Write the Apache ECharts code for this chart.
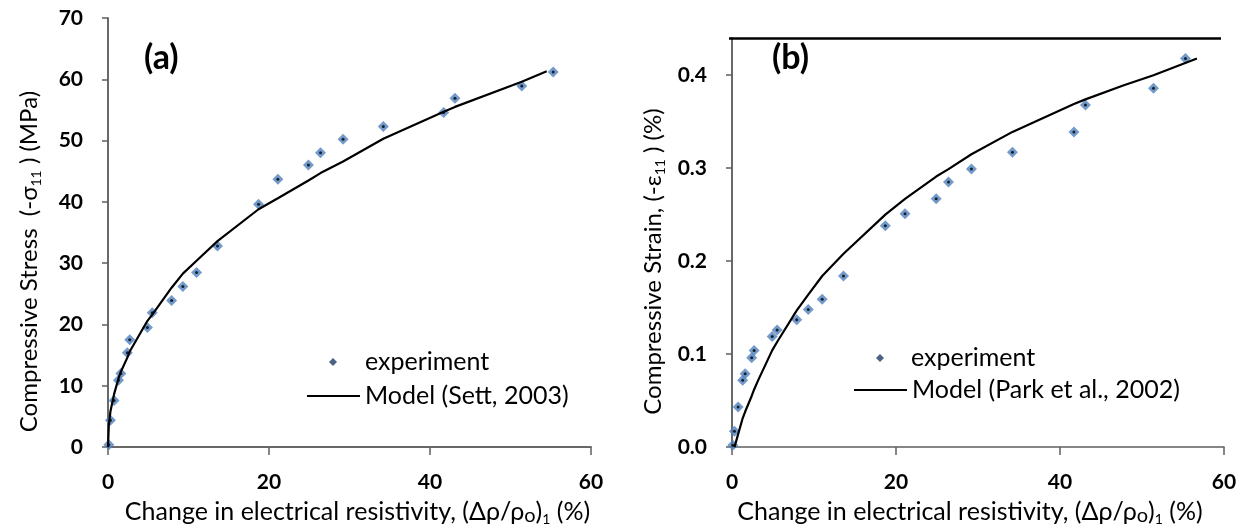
<!DOCTYPE html>
<html>
<head>
<meta charset="utf-8">
<script src="https://cdn.jsdelivr.net/npm/echarts@6/dist/echarts.min.js"></script>
<style>
html,body{margin:0;padding:0;background:#fff;}
#c{width:1251px;height:531px;}
</style>
</head>
<body>
<div id="c"></div>
<script>
// ---- data ----
var xExp = [0.1,0.3,0.75,1.3,1.6,2.4,2.7,4.9,5.5,7.9,9.3,11.0,13.6,18.7,21.1,24.9,26.4,29.2,34.2,41.7,43.1,51.4,55.3];
var stressExp = [0.4,4.4,7.6,10.9,12.0,15.4,17.5,19.5,21.9,23.9,26.2,28.5,32.8,39.6,43.7,46.0,48.0,50.2,52.3,54.6,56.9,58.9,61.2];
var strainExp = [0.002,0.017,0.043,0.072,0.079,0.096,0.104,0.119,0.126,0.137,0.148,0.159,0.184,0.238,0.251,0.267,0.285,0.299,0.317,0.339,0.368,0.386,0.418];

var xModelA = [0,0.1,0.3,0.75,1.3,1.6,2.4,2.7,4.9,5.5,7.9,9.3,11.0,13.6,18.7,21.1,24.9,26.4,29.2,34.2,41.7,43.1,51.4,54.5];
var stressModel = [0,3.5,5.8,8.6,11.2,12.3,14.6,15.6,20.6,21.6,26.0,28.3,30.4,33.6,38.8,40.6,43.5,44.7,46.6,50.3,54.7,55.5,59.6,61.3];

var xModelB = [0.3,0.75,1.3,1.6,2.4,2.7,3.2,4.9,5.5,7.9,9.3,11.0,13.6,18.7,21.1,24.9,26.4,29.2,34.2,41.7,43.1,47.7,51.4,56.7];
var strainModel = [0,0.014,0.031,0.038,0.055,0.062,0.072,0.104,0.113,0.147,0.164,0.184,0.208,0.250,0.267,0.291,0.299,0.315,0.339,0.369,0.374,0.389,0.400,0.418];

var xTicks = [0,20,40,60];
var stressTicks = [0,10,20,30,40,50,60,70];
var strainTicks = [0,0.1,0.2,0.3,0.4];

var labelA = '(a)', labelB = '(b)';
var legExp = 'experiment', legModelA = 'Model (Sett, 2003)', legModelB = 'Model (Park et al., 2002)';
var xName = 'Change in electrical resistivity, (Δρ/ρ{o|o}){s|1} (%)';
var yNameA = 'Compressive Stress  (-σ{s|11} ) (MPa)';
var yNameB = 'Compressive Strain, (-ε{s|11} ) (%)';

function zip(a,b){ return a.map(function(v,i){ return [v,b[i]]; }); }

// ---- styles ----
var FF = 'Lato, Carlito, Calibri, sans-serif';
var AX = '#5f5f5f';
function mkRich(fs){
  return {
    o:{fontFamily:FF,fontSize:Math.round(fs*0.78),color:'#000',lineHeight:22,verticalAlign:'bottom'},
    s:{fontFamily:FF,fontSize:14,color:'#000',lineHeight:14,verticalAlign:'bottom'}
  };
}
function nameStyle(fs,pad){ return {fontFamily:FF,fontSize:fs,color:'#000',lineHeight:28,rich:mkRich(fs),padding:pad}; }
var tickLabel = {fontFamily:FF,fontSize:21,fontWeight:'bold',color:'#000',margin:25,lineHeight:21};
var axLine = {show:true,lineStyle:{color:AX,width:1.5}};

function mainX(gi,pad){
  return {gridIndex:gi,type:'value',min:0,max:60,interval:20,position:'bottom',
    axisLine:axLine,axisTick:{show:true,inside:false,length:8,lineStyle:{color:AX,width:1.5},customValues:xTicks},
    axisLabel:Object.assign({customValues:xTicks},tickLabel),splitLine:{show:false},
    name:xName,nameLocation:'middle',nameGap:47,nameTextStyle:nameStyle(25,pad)};
}
function decoX(gi,show){
  return {gridIndex:gi,type:'value',min:0,max:60,position:'top',
    axisLine:{show:show,lineStyle:{color:AX,width:1.5}},axisTick:{show:false},axisLabel:{show:false},splitLine:{show:false}};
}
function decoY(gi,max){
  return {gridIndex:gi,type:'value',min:0,max:max,position:'right',
    axisLine:{show:true,lineStyle:{color:AX,width:1.5}},axisTick:{show:false},axisLabel:{show:false},splitLine:{show:false}};
}
function expLegend(left,top,padW){
  return {orient:'vertical',left:left,top:top,padding:0,itemWidth:8,itemHeight:8,
    formatter:function(n){return '{g|}'+n;},
    textStyle:{fontFamily:FF,fontSize:25,color:'#000',lineHeight:26,rich:{g:{width:padW,lineHeight:26}}},
    data:[{name:legExp,icon:'diamond',itemStyle:{color:'#1f3b63'}}]};
}
function modelLegend(left,top,name){
  return {orient:'vertical',left:left,top:top,padding:0,itemWidth:53,itemHeight:2.2,
    textStyle:{fontFamily:FF,fontSize:25,color:'#000',lineHeight:26},
    data:[{name:name,icon:'rect',itemStyle:{color:'#000'}}]};
}

var chart = echarts.init(document.getElementById('c'));
chart.setOption({
  backgroundColor:'#fff',
  animation:false,
  title:[
    {text:labelA,left:139,top:36,textStyle:{fontFamily:FF,fontSize:34,fontWeight:'bold',color:'#000'}},
    {text:labelB,left:767,top:36,textStyle:{fontFamily:FF,fontSize:34,fontWeight:'bold',color:'#000'}}
  ],
  grid:[
    {left:108,top:18,width:483,height:436},
    {left:732,top:38,width:492,height:416}
  ],
  legend:[
    expLegend(329,349,23),
    modelLegend(307,383,legModelA),
    expLegend(876,345,22),
    modelLegend(854,377,legModelB)
  ],
  xAxis:[mainX(0,[0,0,0,16]),decoX(0,true),mainX(1,[0,16,0,0]),decoX(1,false)],
  yAxis:[
    {gridIndex:0,type:'value',min:0,max:70,interval:10,position:'left',
     axisLine:axLine,axisTick:{show:true,length:6,lineStyle:{color:AX,width:1.5}},
     axisLabel:tickLabel,splitLine:{show:false},
     name:yNameA,nameLocation:'middle',nameGap:65,nameTextStyle:nameStyle(24,[0,58,0,0])},
    decoY(0,70),
    {gridIndex:1,type:'value',min:0,max:0.44,interval:0.1,position:'left',
     axisLine:axLine,axisTick:{show:true,length:6,lineStyle:{color:AX,width:1.5},customValues:strainTicks},
     axisLabel:Object.assign({customValues:strainTicks,formatter:function(v){
        return Math.abs(v*10-Math.round(v*10))<1e-6 ? v.toFixed(1) : '';}},tickLabel),
     splitLine:{show:false},
     name:yNameB,nameLocation:'middle',nameGap:65,nameTextStyle:nameStyle(24,[0,38,0,0])},
    decoY(1,0.44)
  ],
  graphic:[
    {type:'line',silent:true,shape:{x1:729,y1:38.5,x2:1221,y2:38.5},style:{stroke:'#000',lineWidth:2.5},z:10}
  ],
  series:[
    {name:legExp,type:'scatter',xAxisIndex:0,yAxisIndex:0,symbol:'diamond',symbolSize:11,
     itemStyle:{color:'#4f81bd'},data:zip(xExp,stressExp),z:2},
    {name:'dotA',type:'scatter',xAxisIndex:0,yAxisIndex:0,symbol:'circle',symbolSize:3,
     itemStyle:{color:'#000'},data:zip(xExp,stressExp),z:3,silent:true},
    {name:legModelA,type:'line',xAxisIndex:0,yAxisIndex:0,showSymbol:false,symbol:'none',
     lineStyle:{color:'#000',width:2.2},itemStyle:{color:'#000'},data:zip(xModelA,stressModel),z:4},
    {name:legExp,type:'scatter',xAxisIndex:2,yAxisIndex:2,symbol:'diamond',symbolSize:11,
     itemStyle:{color:'#4f81bd'},data:zip(xExp,strainExp),z:2},
    {name:'dotB',type:'scatter',xAxisIndex:2,yAxisIndex:2,symbol:'circle',symbolSize:3,
     itemStyle:{color:'#000'},data:zip(xExp,strainExp),z:3,silent:true},
    {name:legModelB,type:'line',xAxisIndex:2,yAxisIndex:2,showSymbol:false,symbol:'none',
     lineStyle:{color:'#000',width:2.2},itemStyle:{color:'#000'},data:zip(xModelB,strainModel),z:4}
  ]
});
</script>
</body>
</html>
